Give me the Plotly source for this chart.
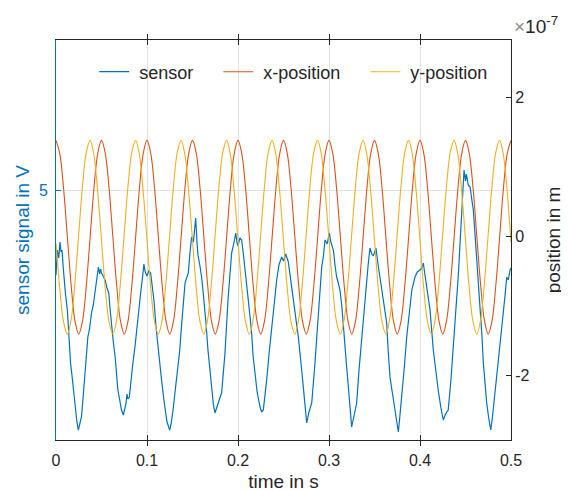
import numpy as np
import plotly.graph_objects as go

# ---------------- data ----------------
sensor_t = [
    0.000, 0.0015, 0.003, 0.0044, 0.0055, 0.0066, 0.008, 0.009, 0.0105, 0.0125,
    0.014, 0.016, 0.0175, 0.019, 0.021, 0.023, 0.0245, 0.026, 0.028, 0.030,
    0.0315, 0.033, 0.035, 0.037, 0.039, 0.041, 0.043, 0.045, 0.0466, 0.048,
    0.049, 0.050, 0.052, 0.054, 0.056, 0.058, 0.0595, 0.061, 0.063, 0.065,
    0.0665, 0.068, 0.070, 0.072, 0.074, 0.0755, 0.077, 0.078, 0.079, 0.0806,
    0.082, 0.084, 0.087, 0.0895, 0.091, 0.093, 0.095, 0.0966, 0.098, 0.100,
    0.102, 0.104, 0.106, 0.1076, 0.110, 0.113, 0.116, 0.119, 0.122, 0.125,
    0.1265, 0.1286, 0.131, 0.133, 0.136, 0.138, 0.140, 0.1418, 0.1435, 0.1454,
    0.147, 0.149, 0.151, 0.1535, 0.155, 0.156, 0.158, 0.160, 0.162, 0.1637,
    0.165, 0.167, 0.169, 0.171, 0.173, 0.1747, 0.1765, 0.178, 0.180, 0.182,
    0.184, 0.1857, 0.189, 0.191, 0.193, 0.1955, 0.1975, 0.199, 0.200, 0.202,
    0.204, 0.206, 0.2076, 0.2095, 0.2113, 0.213, 0.215, 0.2165, 0.2187, 0.221,
    0.2242, 0.226, 0.2278, 0.2295, 0.2315, 0.234, 0.237, 0.2395, 0.2425, 0.245,
    0.248, 0.250, 0.2525, 0.2553, 0.258, 0.2608, 0.2635, 0.2663, 0.270, 0.273,
    0.2755, 0.278, 0.281, 0.284, 0.2865, 0.289, 0.292, 0.294, 0.2956, 0.298,
    0.3004, 0.302, 0.3048, 0.3066, 0.3084, 0.310, 0.312, 0.314, 0.3158, 0.3194,
    0.322, 0.3249, 0.327, 0.3304, 0.333, 0.336, 0.339, 0.3414, 0.343, 0.345,
    0.347, 0.3487, 0.3516, 0.354, 0.356, 0.358, 0.3597, 0.3634, 0.365, 0.367,
    0.370, 0.3725, 0.3762, 0.378, 0.380, 0.383, 0.3854, 0.387, 0.389, 0.391,
    0.3945, 0.397, 0.400, 0.402, 0.4036, 0.4055, 0.4073, 0.409, 0.411, 0.4146,
    0.417, 0.420, 0.423, 0.4256, 0.428, 0.431, 0.434, 0.4366, 0.439, 0.442,
    0.444, 0.4458, 0.4475, 0.4484, 0.450, 0.451, 0.453, 0.455, 0.457, 0.4586,
    0.4605, 0.4623, 0.464, 0.466, 0.468, 0.4696, 0.4715, 0.4733, 0.4755, 0.4777,
    0.4795, 0.4813, 0.4835, 0.486, 0.489, 0.4916, 0.4935, 0.4953, 0.497, 0.499,
    0.500,
]
sensor_v = [
    4.15, 4.40, 4.32, 4.48, 4.38, 4.40, 4.22, 4.07, 3.95, 3.80,
    3.55, 3.27, 3.15, 3.00, 2.85, 2.68, 2.60, 2.66, 2.73, 2.95,
    3.13, 3.30, 3.53, 3.62, 3.77, 3.85, 3.97, 4.10, 4.23, 4.16,
    4.21, 4.17, 4.13, 4.10, 4.02, 3.97, 3.80, 3.63, 3.48, 3.33,
    3.18, 3.00, 2.90, 2.80, 2.75, 2.82, 2.87, 2.96, 2.91, 2.93,
    3.08, 3.23, 3.45, 3.67, 3.85, 3.97, 4.12, 4.26, 4.18, 4.14,
    4.19, 4.17, 4.02, 3.90, 3.62, 3.33, 3.10, 2.87, 2.68, 2.60,
    2.66, 2.80, 3.00, 3.15, 3.40, 3.65, 3.90, 4.07, 4.12, 4.17,
    4.35, 4.53, 4.48, 4.72, 4.47, 4.35, 4.25, 4.13, 3.95, 3.80,
    3.65, 3.40, 3.20, 3.00, 2.85, 2.77, 2.83, 2.87, 2.92, 2.97,
    3.15, 3.37, 3.90, 4.15, 4.37, 4.47, 4.57, 4.47, 4.44, 4.52,
    4.50, 4.35, 4.23, 4.05, 3.90, 3.75, 3.57, 3.35, 3.17, 2.98,
    2.83, 2.78, 2.80, 2.92, 3.10, 3.35, 3.63, 3.85, 4.10, 4.25,
    4.33, 4.29, 4.36, 4.28, 4.10, 3.93, 3.75, 3.53, 3.20, 2.90,
    2.67, 2.78, 2.87, 3.20, 3.53, 3.88, 4.23, 4.35, 4.50, 4.46,
    4.57, 4.48, 4.40, 4.25, 4.13, 4.08, 4.00, 3.85, 3.67, 3.23,
    2.95, 2.63, 2.72, 2.87, 3.20, 3.53, 3.80, 4.07, 4.25, 4.42,
    4.36, 4.34, 4.42, 4.25, 4.13, 4.00, 3.87, 3.67, 3.40, 3.13,
    2.95, 2.80, 2.58, 2.75, 2.93, 3.25, 3.53, 3.67, 3.85, 4.00,
    4.13, 4.18, 4.20, 4.22, 4.27, 4.15, 4.07, 3.92, 3.80, 3.40,
    3.20, 3.00, 2.82, 2.70, 2.76, 2.80, 3.10, 3.40, 3.75, 4.13,
    4.50, 4.87, 5.05, 5.20, 5.09, 5.16, 5.05, 5.03, 4.90, 4.80,
    4.55, 4.33, 4.05, 3.80, 3.55, 3.27, 3.05, 2.87, 2.72, 2.60,
    2.72, 2.87, 3.10, 3.33, 3.55, 3.80, 3.95, 4.13, 4.10, 4.20,
    4.22,
]

# position samples (units of 1e-7 m), 121 samples over 0 ... 0.5 s
position_t = np.linspace(0.0, 0.5, 121)
x_position = [
    1.38, 1.19, 0.69, -0.01, -0.70, -1.21, -1.40, -1.21, -0.70, -0.01, 0.69, 1.19,
    1.38, 1.19, 0.69, -0.01, -0.70, -1.21, -1.40, -1.21, -0.70, -0.01, 0.69, 1.19,
    1.38, 1.19, 0.69, -0.01, -0.70, -1.21, -1.40, -1.21, -0.70, -0.01, 0.69, 1.19,
    1.38, 1.19, 0.69, -0.01, -0.70, -1.21, -1.40, -1.21, -0.70, -0.01, 0.69, 1.19,
    1.38, 1.19, 0.69, -0.01, -0.70, -1.21, -1.40, -1.21, -0.70, -0.01, 0.69, 1.19,
    1.38, 1.19, 0.69, -0.01, -0.70, -1.21, -1.40, -1.21, -0.70, -0.01, 0.69, 1.19,
    1.38, 1.19, 0.69, -0.01, -0.70, -1.21, -1.40, -1.21, -0.70, -0.01, 0.69, 1.19,
    1.38, 1.19, 0.69, -0.01, -0.70, -1.21, -1.40, -1.21, -0.70, -0.01, 0.69, 1.19,
    1.38, 1.19, 0.69, -0.01, -0.70, -1.21, -1.40, -1.21, -0.70, -0.01, 0.69, 1.19,
    1.38, 1.19, 0.69, -0.01, -0.70, -1.21, -1.40, -1.21, -0.70, -0.01, 0.69, 1.19,
    1.38,
]
y_position = [
    -0.10, -0.75, -1.23, -1.40, -1.19, -0.66, 0.04, 0.73, 1.21, 1.38, 1.17, 0.64,
    -0.05, -0.75, -1.23, -1.40, -1.19, -0.66, 0.04, 0.73, 1.21, 1.38, 1.17, 0.64,
    -0.05, -0.75, -1.23, -1.40, -1.19, -0.66, 0.04, 0.73, 1.21, 1.38, 1.17, 0.64,
    -0.05, -0.75, -1.23, -1.40, -1.19, -0.66, 0.04, 0.73, 1.21, 1.38, 1.17, 0.64,
    -0.05, -0.75, -1.23, -1.40, -1.19, -0.66, 0.04, 0.73, 1.21, 1.38, 1.17, 0.64,
    -0.05, -0.75, -1.23, -1.40, -1.19, -0.66, 0.04, 0.73, 1.21, 1.38, 1.17, 0.64,
    -0.05, -0.75, -1.23, -1.40, -1.19, -0.66, 0.04, 0.73, 1.21, 1.38, 1.17, 0.64,
    -0.05, -0.75, -1.23, -1.40, -1.19, -0.66, 0.04, 0.73, 1.21, 1.38, 1.17, 0.64,
    -0.05, -0.75, -1.23, -1.40, -1.19, -0.66, 0.04, 0.73, 1.21, 1.38, 1.17, 0.64,
    -0.05, -0.75, -1.23, -1.40, -1.19, -0.66, 0.04, 0.73, 1.21, 1.38, 1.17, 0.64,
    -0.08,
]

series_names = ["sensor", "x-position", "y-position"]
x_tick_vals = [0, 0.1, 0.2, 0.3, 0.4, 0.5]
x_tick_text = ["0", "0.1", "0.2", "0.3", "0.4", "0.5"]
left_tick_vals = [5]
left_tick_text = ["5"]
right_tick_vals = [-2, 0, 2]
right_tick_text = ["-2", "0", "2"]

# ---------------- styling ----------------
BLUE = "#0072BD"
RED = "#D95319"
YELLOW = "#EDB120"
DARK = "#262626"
GRID = "#e2e2e2"
FONT = "Liberation Sans, Arial, Helvetica, sans-serif"
NB = "\u00a0"  # non-breaking space for legend entry spacing

fig = go.Figure()
fig.add_trace(go.Scatter(x=sensor_t, y=sensor_v, name=NB + series_names[0] + NB * 4, mode="lines",
                         line=dict(color=BLUE, width=1.2), yaxis="y"))
fig.add_trace(go.Scatter(x=position_t, y=x_position, name=NB + series_names[1] + NB * 4, mode="lines",
                         line=dict(color=RED, width=1.1, shape="spline"), yaxis="y2"))
fig.add_trace(go.Scatter(x=position_t, y=y_position, name=NB + series_names[2], mode="lines",
                         line=dict(color=YELLOW, width=1.1, shape="spline"), yaxis="y2"))

fig.update_layout(
    width=569, height=491,
    margin=dict(l=48, r=66, t=32, b=59, autoexpand=False),
    paper_bgcolor="white", plot_bgcolor="white",
    font=dict(family=FONT, color=DARK, size=16),
    showlegend=True,
    legend=dict(orientation="h", x=0.084, y=0.92, xanchor="left", yanchor="middle",
                bgcolor="rgba(0,0,0,0)", borderwidth=0,
                font=dict(size=18, color=DARK)),
    xaxis=dict(range=[0, 0.5], tickvals=x_tick_vals, ticktext=x_tick_text,
               showgrid=True, gridcolor=GRID, gridwidth=1, zeroline=False,
               ticks="inside", ticklen=5, tickcolor=DARK, automargin=False,
               showline=True, linecolor=DARK, linewidth=1, mirror="allticks",
               tickfont=dict(size=16, color=DARK), ticklabelstandoff=6,
               title=dict(text="time in s", font=dict(size=19, color=DARK), standoff=6)),
    yaxis=dict(range=[2.5, 6.5], tickvals=left_tick_vals, ticktext=left_tick_text,
               showgrid=True, gridcolor=GRID, gridwidth=1, zeroline=False,
               ticks="inside", ticklen=5, tickcolor=BLUE, automargin=False,
               showline=True, linecolor=BLUE, linewidth=1,
               tickfont=dict(size=16, color=BLUE), ticklabelstandoff=4,
               title=dict(text="sensor signal in V", font=dict(size=19, color=BLUE), standoff=4)),
    yaxis2=dict(range=[-2.92, 2.82], tickvals=right_tick_vals, ticktext=right_tick_text,
                overlaying="y", side="right",
                showgrid=False, zeroline=False, automargin=False,
                ticks="inside", ticklen=5, tickcolor=DARK,
                showline=True, linecolor=DARK, linewidth=1,
                tickfont=dict(size=16, color=DARK),
                title=dict(text="position in m", font=dict(size=19, color=DARK), standoff=18)),
    annotations=[dict(text="<span style='color:#8c8c8c'>×</span>10<sup>-7</sup>",
                      xref="paper", yref="paper", x=1.002, y=1.072,
                      xanchor="left", yanchor="top", showarrow=False,
                      font=dict(size=19, color=DARK, family=FONT))],
)

fig.write_html("out.html")
